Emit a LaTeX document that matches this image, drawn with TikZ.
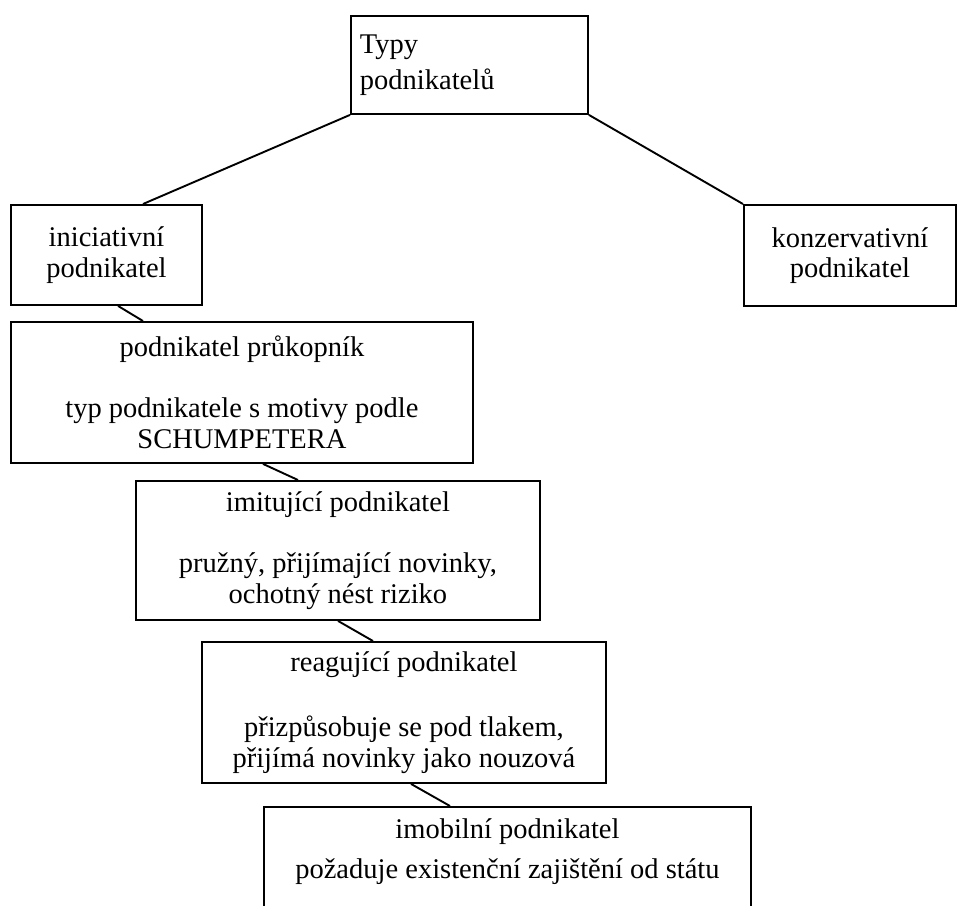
\documentclass[tikz,border=0pt]{standalone}
\usepackage{fontspec}
\setmainfont{Liberation Serif}
\usetikzlibrary{calc}
\newlength{\pxlen}
\setlength{\pxlen}{0.421pt}

\begin{document}
\begin{tikzpicture}[x=\pxlen, y=-\pxlen,
	box/.style={draw, line width=0.8pt, inner sep=0pt, anchor=north west, align=center, font=\fontsize{12}{12.84}\selectfont},
	link/.style={line width=0.8pt}]
	\useasboundingbox (0,0) rectangle (971,905);
	\clip (0,0) rectangle (971,905);
	\node[box, minimum width=237\pxlen, minimum height=98\pxlen, align=left, text width=219\pxlen] (typy) at (350,15) {Typy\\[5\pxlen]podnikatelů};
	\node[box, minimum width=191\pxlen, minimum height=100\pxlen] (ini) at (10,204) {iniciativní\\podnikatel};
	\node[box, minimum width=212\pxlen, minimum height=101\pxlen] (kon) at (743,204) {konzervativní\\podnikatel};
	\node[box, minimum width=462\pxlen, minimum height=141\pxlen] (pru) at (10,321) {podnikatel průkopník\\[\baselineskip]typ podnikatele s motivy podle\\SCHUMPETERA};
	\node[box, minimum width=404\pxlen, minimum height=139\pxlen] (imi) at (135,480) {imitující podnikatel\\[\baselineskip]pružný, přijímající novinky,\\ochotný nést riziko};
	\node[box, minimum width=404\pxlen, minimum height=141\pxlen] (rea) at (201,641) {reagující podnikatel\\[35\pxlen]přizpůsobuje se pod tlakem,\\přijímá novinky jako nouzová};
	\node[box, minimum width=487\pxlen, inner ysep=11.5\pxlen] (imo) at (263,806) {imobilní podnikatel\\[9.5\pxlen]požaduje existenční zajištění od státu\rule[-60\pxlen]{0pt}{0pt}};
	% spojnice
	\draw[link] (typy.south west) -- ($(ini.north west)+(133,0)$);
	\draw[link] (typy.south east) -- (kon.north west);
	\draw[link] ($(ini.south west)+(108,0)$) -- ($(pru.north west)+(133,0)$);
	\draw[link] ($(pru.south west)+(253,0)$) -- ($(imi.north west)+(163,0)$);
	\draw[link] ($(imi.south west)+(203,0)$) -- ($(rea.north west)+(172,0)$);
	\draw[link] ($(rea.south west)+(210,0)$) -- ($(imo.north west)+(187,0)$);
\end{tikzpicture}
\end{document}
